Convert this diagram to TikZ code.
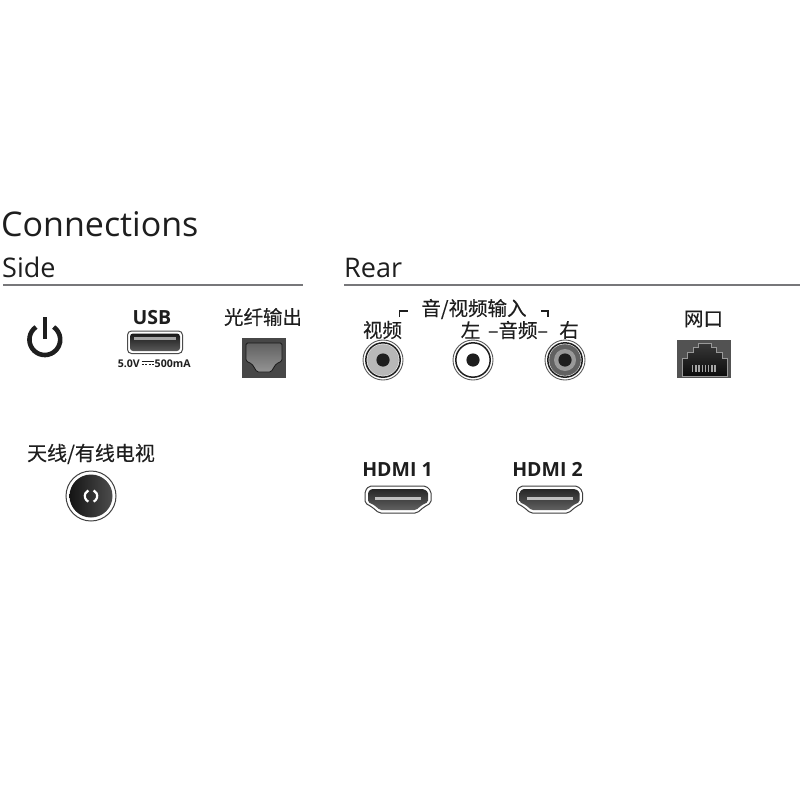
\documentclass[tikz,border=0pt]{standalone}
\usepackage{fontspec}
\setmainfont{Open Sans}
\newfontfamily\cjk[FakeBold=0.25]{Noto Sans CJK SC}
\usetikzlibrary{shadings}
\definecolor{ink}{HTML}{1E1E1E}
\definecolor{rulec}{HTML}{77777A}
\tikzset{
  lbl/.style={inner sep=0pt,text=ink,font=\cjk\fontsize{19.5}{19.5}\selectfont},
  head/.style={inner sep=0pt,anchor=base west,text=ink},
  boldl/.style={inner sep=0pt,anchor=base,text=ink,font=\bfseries\fontsize{19.5}{19.5}\selectfont},
  tiny/.style={inner sep=0pt,text=ink,font=\bfseries\fontsize{10.6}{10.6}\selectfont},
  rulel/.style={draw=rulec,line width=2pt},
  brk/.style={draw=ink,line width=1.8pt},
}
\newcommand{\rca}[4]{% x, fill, ring, name
  \coordinate (#4) at (#1,360);
  \fill[white,draw=gray!70!black,line width=0.9pt] (#4) circle (20);
  \draw[ink,line width=1.5pt] (#4) circle (17.2);
  \fill[#2] (#4) circle (15.8);
  \fill[#3] (#4) circle (11);
  \fill[ink] (#4) circle (6.6);
}
\newcommand{\hdmi}[2]{% x shift, name
  \begin{scope}[xshift=#1pt]
    \path[fill=white,draw=black!75,line width=1pt,rounded corners=2pt]
      (365,491)--(369,486)--(426,486)--(431,491)--(431,503)--(424,507)--(417,513)--(379,513)--(372,507)--(365,503)--cycle;
    \path[top color=black!85,bottom color=black!62,rounded corners=1.5pt]
      (368,492)--(371,489)--(424,489)--(428,492)--(428,502)--(422,505)--(416,510)--(380,510)--(374,505)--(368,502)--cycle;
    \coordinate (#2) at (398,498);
    \fill[black!25] (375,496.6) rectangle (421,499.6);
  \end{scope}
}
\begin{document}
\begin{tikzpicture}[x=1pt,y=-1pt]
\useasboundingbox (0,0) rectangle (800,800);
\fill[white] (0,0) rectangle (800,800);
% headings
\node[head,font=\fontsize{34}{34}\selectfont] (conn) at (1,236) {Connections};
\node[head,font=\fontsize{27}{27}\selectfont] (side) at (2,277) {Side};
\node[head,font=\fontsize{27}{27}\selectfont] (rear) at (344,277) {Rear};
\draw[rulel] (3,285) -- (303,285);
\draw[rulel] (344,285) -- (800,285);
% power
\draw[ink,line width=4.6pt] (36,327) arc[start angle=235,end angle=-55,radius=15.4];
\draw[ink,line width=4.4pt] (44.8,317) -- (44.8,339);
% USB
\node[boldl] (usb) at (152,324) {USB};
\path[fill=white,draw=black!70,line width=1pt,rounded corners=4pt] (127.5,331) rectangle (182.5,353.5);
\path[top color=black!90,bottom color=black!65,rounded corners=3pt] (130,333.5) rectangle (180,351);
\fill[black!35] (134,337) rectangle (176,340);
\node[tiny,anchor=east] (usbv) at (140,363.5) {5.0V};
\node[tiny,anchor=west] (usba) at (154.5,363.5) {500mA};
\draw[ink,line width=1pt] (141.5,361.5) -- (153.5,361.5);
\draw[ink,line width=1pt,dash pattern=on 2.4pt off 1.1pt] (141.5,364.5) -- (153.5,364.5);
% optical
\node[lbl] (opt) at (263,317) {光纤输出};
\fill[black!72] (242,338) rectangle (286,378);
\path[top color=black!62,bottom color=black!42,draw=black!90,line width=0.8pt,rounded corners=1.5pt]
  (246,343)--(282,343)--(282,361)--(276,364)--(271,372)--(257,372)--(252,364)--(246,361)--cycle;
% rear labels
\node[lbl] (av) at (474,309) {音/视频输入};
\draw[brk] (399.5,317) -- (399.5,311) -- (408,311);
\draw[brk] (541,311) -- (548,311) -- (548,317);
\node[lbl] (vid) at (382.5,330) {视频};
\node[lbl] (lft) at (470.5,330) {左};
\node[lbl] (aud) at (518,330) {–音频–};
\node[lbl] (rgt) at (569,330) {右};
\rca{383}{black!28}{black!28}{rcaV}
\rca{473}{white}{white}{rcaL}
\rca{565}{black!62}{black!40}{rcaR}
% network
\node[lbl] (net) at (703.5,319) {网口};
\fill[black!68] (677,340) rectangle (731,378);
\path[top color=black!78,bottom color=black!95,draw=black!40,line width=0.8pt]
  (682,376)--(682,358)--(687,358)--(687,352)--(693,352)--(693,347)--(698,347)--(698,343)--(711,343)--(711,347)--(716,347)--(716,352)--(722,352)--(722,358)--(727,358)--(727,376)--cycle;
\foreach \i in {0,...,7} \fill[black!35] ({692+3.2*\i},365) rectangle ({693.3+3.2*\i},372);
% antenna
\node[lbl,font=\cjk\fontsize{20}{20}\selectfont] (ant) at (91,454) {天线/有线电视};
\coordinate (antc) at (91,496);
\fill[white,draw=black!75,line width=1pt] (antc) circle (25);
\path[left color=black!92,right color=black!70] (antc) circle (21.5);
\draw[white,line width=2.2pt] (antc)+(65:6.2) arc[start angle=65,end angle=-65,radius=6.2];
\draw[white,line width=2.2pt] (antc)+(115:6.2) arc[start angle=115,end angle=245,radius=6.2];
% HDMI
\node[boldl] (hd1) at (397.5,476.5) {HDMI 1};
\node[boldl] (hd2) at (547.5,476.5) {HDMI 2};
\hdmi{0}{portA}
\hdmi{151.5}{portB}
\end{tikzpicture}
\end{document}
